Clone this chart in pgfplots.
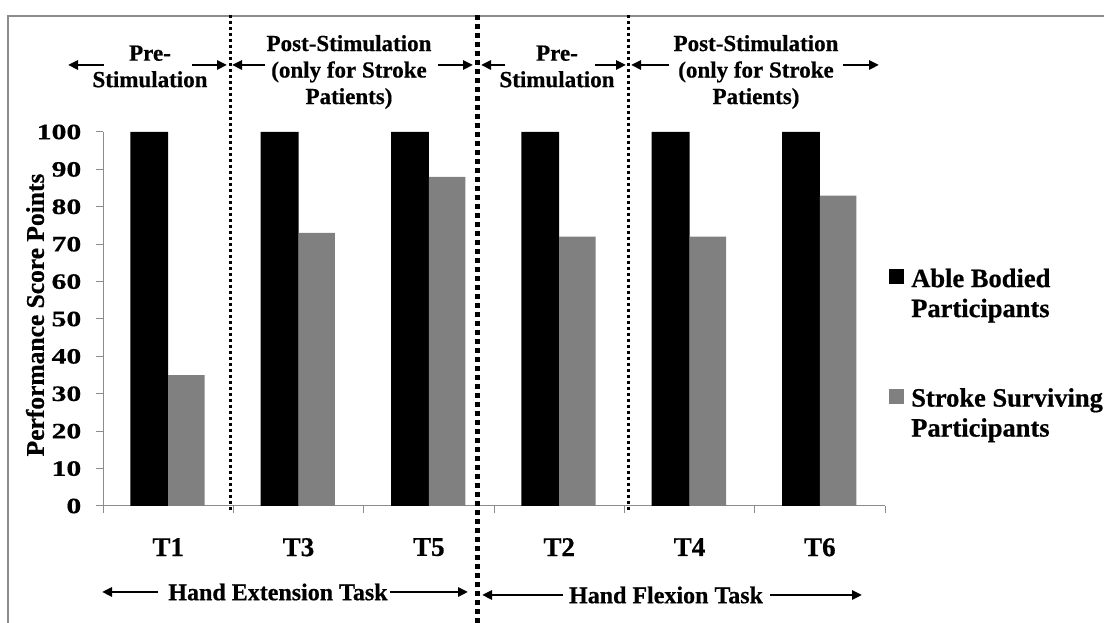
\documentclass[border=0pt]{standalone}
\usepackage{pgfplots}
\pgfplotsset{compat=1.18}
\usepackage{fontspec}
\setmainfont{Liberation Serif}[BoldFeatures={FakeBold=0.6}]
\newfontfamily\widefont{Liberation Serif}[FakeStretch=1.35,BoldFeatures={FakeBold=0.6}]
\usetikzlibrary{arrows.meta}
\definecolor{bargray}{HTML}{808080}
\definecolor{axgray}{HTML}{8C8C8C}
\newcommand\annfont{\bfseries\fontsize{23bp}{26.5bp}\selectfont}
\begin{document}
\begin{tikzpicture}[x=1bp,y=1bp,
  arr/.style={line width=2.6bp,-{Triangle[length=10bp,width=9bp]}}]
\useasboundingbox (0,0) rectangle (1104,623);
\draw[axgray, line width=1.5bp] (8,-5) -- (8,607) -- (1110,607);
\begin{axis}[
  at={(103bp,117bp)}, anchor=south west,
  width=782bp, height=374bp, scale only axis,
  xmin=-0.5, xmax=5.5, ymin=0, ymax=100,
  axis x line*=bottom, axis y line*=left,
  axis line style={axgray, line width=1bp},
  tick style={axgray, line width=1bp},
  tick align=outside, major tick length=7.5bp,
  /pgf/number format/assume math mode=true,
  ytick={0,10,...,100},
  yticklabel style={font=\widefont\bfseries\fontsize{22bp}{22bp}\selectfont, inner sep=0pt, xshift=-14bp},
  xtick={-0.5,0.5,1.5,2.5,3.5,4.5,5.5},
  xticklabels={},
  extra x ticks={0,1,2,3,4,5},
  extra x tick labels={T1,T3,T5,T2,T4,T6},
  extra x tick style={major tick length=0pt,
    xticklabel style={font=\bfseries\fontsize{27bp}{27bp}\selectfont, anchor=north, inner sep=0pt, yshift=-32bp}},
  clip=false,
  legend cell align=left,
  legend image code/.code={\path[#1, draw=none] (0bp,-7bp) rectangle (15bp,8bp);},
  legend style={at={(axis cs:5.531,64.2)}, anchor=north west, draw=none, fill=none,
    inner sep=0pt, row sep=97bp, nodes={inner sep=0pt},
    font=\bfseries\fontsize{26.5bp}{30bp}\selectfont,
    /tikz/every odd column/.append style={column sep=7bp}},
]
\addplot[ybar, bar width=0.29, bar shift=-0.145, fill=black, draw=none]
  coordinates {(0,100) (1,100) (2,100) (3,100) (4,100) (5,100)};
\addlegendentry{\begin{tabular}[t]{@{}l@{}}Able Bodied\\Participants\end{tabular}}
\addplot[ybar, bar width=0.28, bar shift=0.14, fill=bargray, draw=none]
  coordinates {(0,35) (1,73) (2,88) (3,72) (4,72) (5,83)};
\addlegendentry{\begin{tabular}[t]{@{}l@{}}Stroke Surviving\\Participants\end{tabular}}
\end{axis}
% y label
\node[rotate=90, font=\bfseries\fontsize{25.5bp}{25.5bp}\selectfont] at (35,308) {Performance Score Points};
% dotted separators
\draw[line width=3bp, dash pattern=on 3bp off 3bp] (230,608) -- (230,113);
\draw[line width=3bp, dash pattern=on 3bp off 3bp] (628,608) -- (628,111);
\draw[line width=5bp, dash pattern=on 5bp off 4bp] (477,608) -- (477,0);
% top annotations
\node[align=center, font=\annfont] at (150,556.5) {Pre-\\Stimulation};
\node[align=center, font=\annfont] at (349,551) {Post-Stimulation\\(only for Stroke\\Patients)};
\node[align=center, font=\annfont] at (557,556.5) {Pre-\\Stimulation};
\node[align=center, font=\annfont] at (756,551) {Post-Stimulation\\(only for Stroke\\Patients)};
\draw[arr] (104,558) -- (68,558);
\draw[arr] (192,558) -- (227,558);
\draw[arr] (265,558) -- (232,558);
\draw[arr] (438,558) -- (473,558);
\draw[arr] (505,558) -- (481,558);
\draw[arr] (595,558) -- (626,558);
\draw[arr] (669,558) -- (631,558);
\draw[arr] (843,558) -- (879,558);
% bottom annotations
\node[font=\bfseries\fontsize{24bp}{24bp}\selectfont] at (278,31) {Hand Extension Task};
\node[font=\bfseries\fontsize{24bp}{24bp}\selectfont] at (666,28) {Hand Flexion Task};
\draw[arr] (158,31) -- (102,31);
\draw[arr] (390,31) -- (468,31);
\draw[arr] (563,28) -- (482,28);
\draw[arr] (770,28) -- (862,28);
\end{tikzpicture}
\end{document}
